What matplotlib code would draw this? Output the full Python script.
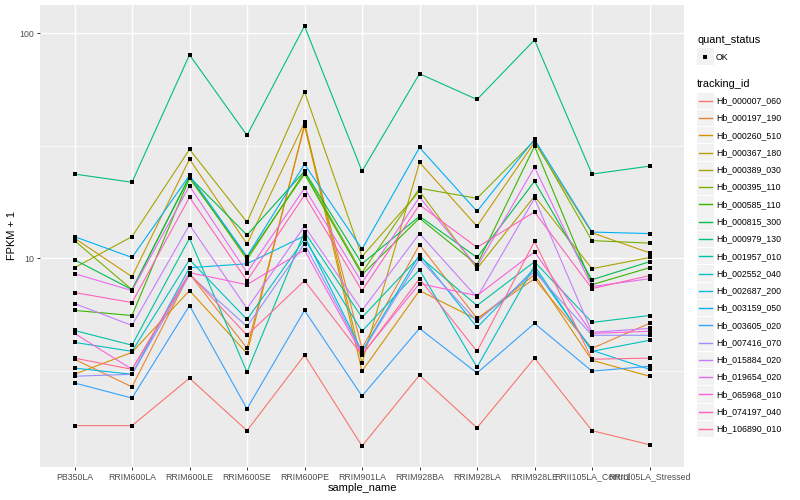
import matplotlib
matplotlib.use('Agg')
import matplotlib.pyplot as plt
import numpy as np
from matplotlib.lines import Line2D
from matplotlib.patches import Rectangle
from matplotlib.ticker import FixedLocator, NullFormatter, NullLocator

plt.rcParams['font.family'] = ['Liberation Sans', 'DejaVu Sans']

samples = ["PB350LA", "RRIM600LA", "RRIM600LE", "RRIM600SE", "RRIM600PE", "RRIM901LA",
           "RRIM928BA", "RRIM928LA", "RRIM928LE", "RRII105LA_Control", "RRII105LA_Stressed"]

tracking_ids = ["Hb_000007_060", "Hb_000197_190", "Hb_000260_510", "Hb_000367_180", "Hb_000389_030",
                "Hb_000395_110", "Hb_000585_110", "Hb_000815_300", "Hb_000979_130", "Hb_001957_010",
                "Hb_002552_040", "Hb_002687_200", "Hb_003159_050", "Hb_003605_020", "Hb_007416_070",
                "Hb_015884_020", "Hb_019654_020", "Hb_065968_010", "Hb_074197_040", "Hb_106890_010"]

colors = ["#F8766D", "#EA8331", "#D89000", "#C09B00", "#A3A500", "#7CAE00", "#39B600", "#00BB4E",
          "#00BF7D", "#00C1A3", "#00BFC4", "#00BAE0", "#00B0F6", "#35A2FF", "#9590FF", "#C77CFF",
          "#E76BF3", "#FA62DB", "#FF62BC", "#FF6C91"]

# FPKM + 1 values, one list per tracking_id (same order as samples)
hb_000007_060 = [1.81, 1.81, 2.94, 1.72, 3.72, 1.47, 3.03, 1.77, 3.61, 1.72, 1.49]
hb_000197_190 = [3.57, 2.69, 8.56, 3.99, 38.6, 3.99, 11.5, 5.42, 8.13, 3.99, 5.15]
hb_000260_510 = [3.06, 3.83, 7.20, 3.79, 39.4, 3.16, 7.20, 5.36, 8.47, 3.53, 3.00]
hb_000367_180 = [12.3, 8.30, 27.6, 11.6, 40.2, 3.43, 26.7, 13.9, 32.8, 13.0, 10.6]
hb_000389_030 = [9.10, 12.5, 30.5, 14.5, 55.0, 10.2, 19.9, 9.01, 18.9, 9.01, 10.1]
hb_000395_110 = [12.0, 7.27, 23.2, 9.87, 24.2, 8.65, 20.5, 18.5, 33.4, 12.0, 11.7]
hb_000585_110 = [5.88, 5.58, 22.7, 10.1, 23.7, 8.47, 15.1, 9.38, 31.5, 7.65, 9.10]
hb_000815_300 = [9.87, 7.27, 23.0, 12.7, 24.4, 9.47, 15.4, 10.1, 22.0, 8.05, 9.67]
hb_000979_130 = [23.7, 21.8, 80.2, 35.2, 107.7, 24.4, 66.1, 50.8, 93.4, 23.7, 25.7]
hb_001957_010 = [4.79, 4.12, 12.3, 3.13, 13.1, 5.47, 10.2, 6.18, 9.67, 5.20, 5.58]
hb_002552_040 = [4.24, 3.87, 9.87, 5.36, 12.2, 4.75, 8.91, 3.29, 9.29, 3.87, 4.33]
hb_002687_200 = [3.26, 3.06, 9.10, 9.47, 12.6, 3.87, 10.4, 4.94, 9.01, 3.91, 3.22]
hb_003159_050 = [12.5, 10.1, 23.4, 10.2, 26.2, 11.0, 31.1, 16.2, 33.8, 13.1, 12.9]
hb_003605_020 = [2.80, 2.40, 6.18, 2.15, 5.88, 2.45, 4.89, 3.10, 5.15, 3.16, 3.32]
hb_007416_070 = [3.00, 3.06, 8.47, 4.99, 11.6, 3.83, 9.97, 5.25, 8.74, 4.56, 4.56]
hb_015884_020 = [6.31, 5.04, 14.1, 5.99, 13.9, 5.88, 12.9, 6.71, 18.5, 4.70, 4.89]
hb_019654_020 = [8.56, 7.20, 21.0, 8.65, 20.5, 7.81, 18.7, 9.19, 25.4, 7.50, 8.13]
hb_065968_010 = [4.65, 3.22, 8.65, 7.65, 10.9, 3.75, 7.73, 6.84, 10.7, 4.65, 4.75]
hb_074197_040 = [7.06, 6.37, 18.7, 7.97, 19.1, 7.20, 17.3, 11.2, 16.1, 7.35, 8.39]
hb_106890_010 = [3.61, 3.22, 8.56, 4.56, 7.97, 3.72, 8.13, 3.87, 11.9, 3.57, 3.61]

series = [hb_000007_060, hb_000197_190, hb_000260_510, hb_000367_180, hb_000389_030,
          hb_000395_110, hb_000585_110, hb_000815_300, hb_000979_130, hb_001957_010,
          hb_002552_040, hb_002687_200, hb_003159_050, hb_003605_020, hb_007416_070,
          hb_015884_020, hb_019654_020, hb_065968_010, hb_074197_040, hb_106890_010]

W, H = 800, 500
fig = plt.figure(figsize=(W / 100, H / 100), dpi=100)
pl, pr, pt, pb = 40, 684, 5, 467
ax = fig.add_axes([pl / W, 1 - pb / H, (pr - pl) / W, (pb - pt) / H])
ax.set_facecolor('#EBEBEB')

x = np.arange(len(samples))
for vals, c in zip(series, colors):
    ax.plot(x, vals, color=c, lw=0.8, zorder=2, solid_capstyle='butt')
for vals in series:
    ax.plot(x, vals, 's', color='black', ms=2.6, zorder=3, mew=0)

ax.set_yscale('log')
allv = np.concatenate([np.log10(v) for v in series])
lo, hi = allv.min(), allv.max()
ex = (hi - lo) * 0.05
ax.set_ylim(10 ** (lo - ex), 10 ** (hi + ex))
ax.set_xlim(-0.6, len(samples) - 0.4)

ax.yaxis.set_major_locator(FixedLocator([10, 100]))
ax.set_yticklabels(["10", "100"])
ax.yaxis.set_minor_locator(FixedLocator([10 ** 0.5, 10 ** 1.5]))
ax.yaxis.set_minor_formatter(NullFormatter())
ax.set_xticks(x)
ax.set_xticklabels(samples)
ax.xaxis.set_minor_locator(NullLocator())

ax.grid(which='major', color='white', lw=1.0)
ax.grid(which='minor', axis='y', color='white', lw=0.5)
ax.set_axisbelow(True)
for s in ax.spines.values():
    s.set_visible(False)
ax.tick_params(which='major', length=2.2, width=0.7, color='#333333', labelcolor='#4D4D4D',
               labelsize=6.3, pad=1.8)
ax.tick_params(which='minor', length=0)

fig.text(12 / W, 1 - 236 / H, "FPKM + 1", rotation=90, ha='center', va='center', fontsize=7.9)
fig.text(362 / W, 1 - 488 / H, "sample_name", ha='center', va='center', fontsize=7.9)

# legend
def fx(px):
    return px / W

def fy(py):
    return 1 - py / H

fig.text(fx(697), fy(40), "quant_status", ha='left', va='center', fontsize=7.9)
fig.add_artist(Rectangle((fx(697), fy(65)), 16.5 / W, 16.5 / H, transform=fig.transFigure,
                         facecolor='#F2F2F2', edgecolor='none'))
fig.add_artist(Line2D([fx(705.2)], [fy(57)], marker='s', ms=2.6, color='black', mew=0,
                      linestyle='none', transform=fig.transFigure))
fig.text(fx(716), fy(57), "OK", ha='left', va='center', fontsize=6.3)

fig.text(fx(697), fy(84), "tracking_id", ha='left', va='center', fontsize=7.9)
for i, (tid, c) in enumerate(zip(tracking_ids, colors)):
    cy = 100.7 + 17.28 * i
    fig.add_artist(Rectangle((fx(697), fy(cy + 8.2)), 16.5 / W, 16.4 / H, transform=fig.transFigure,
                             facecolor='#F2F2F2', edgecolor='none'))
    fig.add_artist(Line2D([fx(698.5), fx(712)], [fy(cy), fy(cy)], color=c, lw=1.0,
                          transform=fig.transFigure))
    fig.text(fx(716), fy(cy), tid, ha='left', va='center', fontsize=6.3)

fig.savefig("out.png", dpi=100, facecolor='white')
